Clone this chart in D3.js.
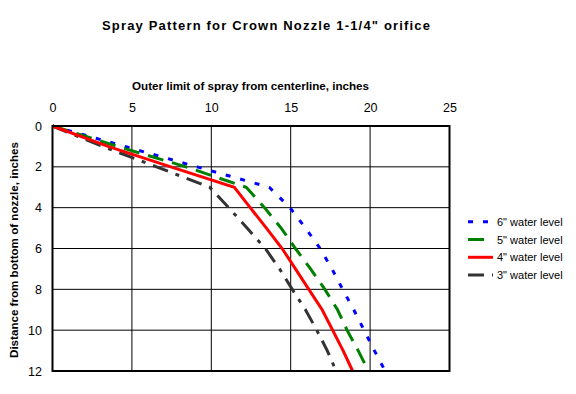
<!DOCTYPE html>
<html><head><meta charset="utf-8">
<script src="https://cdn.jsdelivr.net/npm/d3@7"></script>
<style>html,body{margin:0;padding:0;background:#fff;}svg{display:block;}text{font-family:"Liberation Sans",Arial,sans-serif;}</style>
</head><body><svg id="c" width="576" height="394"></svg>
<script>
const depths = [0,1,2,3,4,5,6,7,8,9,10,11,12];
const level6 = [0, 4.55, 9.1, 13.65, 14.95, 15.93, 16.85, 17.6, 18.27, 18.97, 19.62, 20.27, 20.95];
const level5 = [0, 4.1, 8.4, 12.2, 13.35, 14.4, 15.3, 16.25, 17.15, 17.95, 18.55, 19.25, 19.9];
const level4 = [0, 3.5, 7.45, 11.45, 12.45, 13.47, 14.46, 15.3, 16.14, 16.98, 17.64, 18.3, 18.9];
const level3 = [0, 3.15, 6.55, 9.9, 11.1, 12.25, 13.4, 14.3, 15.1, 15.93, 16.64, 17.3, 17.86];
const seriesNames = ['6" water level','5" water level','4" water level','3" water level'];
const xTicks = [0,5,10,15,20,25];
const yTicks = [0,2,4,6,8,10,12];

const svg = d3.select('#c');
const x = d3.scaleLinear().domain([0,25]).range([52.5,449.5]);
const y = d3.scaleLinear().domain([0,12]).range([126,371]);

const styles = [
  {color:'#0000ff', dash:'5,10', w:3},
  {color:'#008000', dash:'16,9', w:3},
  {color:'#ff0000', dash:null, w:3},
  {color:'#333333', dash:'16,8,4,8', w:3}
];
const data = [level6, level5, level4, level3];

// title
svg.append('text').attr('x',266).attr('y',30).attr('text-anchor','middle')
  .attr('font-size',13).attr('font-weight','bold')
  .attr('textLength',328).attr('lengthAdjust','spacing')
  .text('Spray Pattern for Crown Nozzle 1-1/4" orifice');

// gridlines
const g = svg.append('g');
g.selectAll('.vg').data(xTicks.slice(1,-1)).enter().append('line')
  .attr('x1',d=>x(d)).attr('x2',d=>x(d)).attr('y1',y(0)).attr('y2',y(12))
  .attr('stroke','#000').attr('stroke-width',1);
g.selectAll('.hg').data(yTicks.slice(1,-1)).enter().append('line')
  .attr('x1',x(0)).attr('x2',x(25)).attr('y1',d=>y(d)).attr('y2',d=>y(d))
  .attr('stroke','#000').attr('stroke-width',1);

// axes labels (top x axis)
const xAxis = d3.axisTop(x).tickValues(xTicks).tickSize(0).tickPadding(0).tickFormat(d3.format('d'));
const xa = svg.append('g').attr('transform','translate(0,111.5)').call(xAxis);
xa.select('.domain').remove();
xa.selectAll('text').attr('font-size',12.5).attr('font-family','"Liberation Sans",Arial,sans-serif').attr('fill','#000').attr('dy',0);

const yAxis = d3.axisLeft(y).tickValues(yTicks).tickSize(0).tickPadding(0).tickFormat(d3.format('d'));
const ya = svg.append('g').attr('transform','translate(42,0)').call(yAxis);
ya.select('.domain').remove();
ya.selectAll('text').attr('font-size',12.5).attr('font-family','"Liberation Sans",Arial,sans-serif').attr('fill','#000');

svg.append('text').attr('x',250.5).attr('y',90).attr('text-anchor','middle')
  .attr('font-size',11).attr('font-weight','bold')
  .attr('textLength',237).attr('lengthAdjust','spacingAndGlyphs')
  .text('Outer limit of spray from centerline, inches');
svg.append('text').attr('transform','translate(18,250) rotate(-90)').attr('text-anchor','middle')
  .attr('font-size',11).attr('font-weight','bold')
  .attr('textLength',216).attr('lengthAdjust','spacingAndGlyphs')
  .text('Distance from bottom of nozzle, inches');

// lines
const line = d3.line().x(d=>x(d[0])).y(d=>y(d[1]));
const order = [0,1,3,2];
order.forEach(i=>{
  const pts = data[i].map((v,j)=>[v, depths[j]]);
  svg.append('path').datum(pts).attr('d',line).attr('fill','none')
    .attr('stroke',styles[i].color).attr('stroke-width',styles[i].w)
    .attr('stroke-dasharray',styles[i].dash);
});

// frame
svg.append('rect').attr('x',x(0)).attr('y',y(0)).attr('width',x(25)-x(0)).attr('height',y(12)-y(0))
  .attr('fill','none').attr('stroke','#000').attr('stroke-width',2);

// legend
const lg = svg.append('g');
const ly = [221.7, 239.5, 257.3, 275];
seriesNames.forEach((n,i)=>{
  lg.append('line').attr('x1',468).attr('x2',493).attr('y1',ly[i]).attr('y2',ly[i])
    .attr('stroke',styles[i].color).attr('stroke-width',3).attr('stroke-dasharray',styles[i].dash);
  lg.append('text').attr('x',497).attr('y',ly[i]+4).attr('font-size',11).text(n);
});
</script></body></html>
